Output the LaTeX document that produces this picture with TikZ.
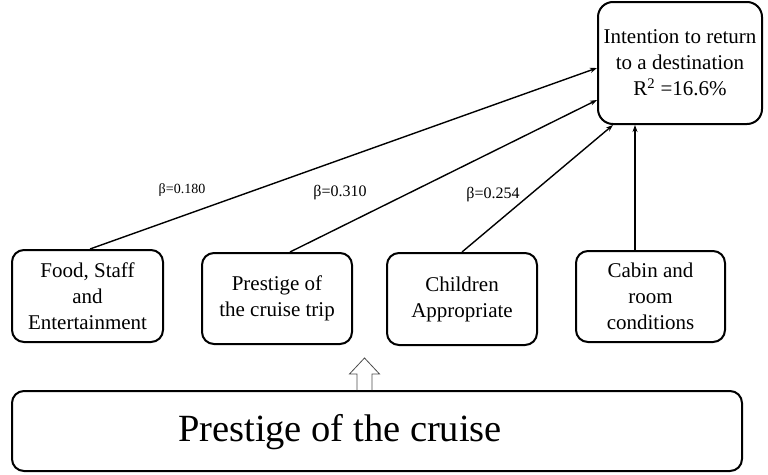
\documentclass[tikz,border=0pt]{standalone}
\usepackage{fontspec}
\setmainfont{Liberation Serif}
\usetikzlibrary{arrows.meta}

\begin{document}
\begin{tikzpicture}[x=1pt,y=-1pt,
	box/.style={draw,line width=2pt,rounded corners=12pt,align=center,inner sep=0pt,
		font=\fontsize{21}{26}\selectfont},
	conn/.style={line width=1.4pt,-{Stealth[length=7pt,width=5pt]}},
	beta/.style={font=\fontsize{16}{18}\selectfont}]
	\useasboundingbox (0,0) rectangle (768,474);

	% dependent variable
	\node[box,rounded corners=15pt,minimum width=164pt,minimum height=122pt] (tgt) at (680,63)
		{Intention to return\\to a destination\\R\textsuperscript{2} =16.6\%};

	% factors
	\node[box,minimum width=151pt,minimum height=92pt] (food) at (87.5,296) {Food, Staff\\and\\Entertainment};
	\node[box,minimum width=150pt,minimum height=91pt] (trip) at (277,298.5) {Prestige of\\the cruise trip};
	\node[box,minimum width=150pt,minimum height=92pt] (kids) at (462,299) {Children\\Appropriate};
	\node[box,minimum width=149pt,minimum height=91pt] (cabin) at (650.5,296.5) {Cabin and\\room\\conditions};

	% bottom box
	\node[box,minimum width=730pt,minimum height=80pt] (big) at (377,431) {};
	\node[font=\fontsize{38.5}{44}\selectfont] (bigtxt) at (340,432) {Prestige of the cruise};

	% paths
	\draw[conn] ([xshift=2.5pt]food.north) -- ([yshift=-5pt]tgt.west);
	\draw[conn] ([xshift=13pt]trip.north) -- ([yshift=-37pt]tgt.west);
	\draw[conn] (kids.north) -- ([xshift=16pt]tgt.south west);
	\draw[conn] ([xshift=-15.5pt]cabin.north) -- ([xshift=-15.5pt]cabin.north |- tgt.south);

	\node[beta,font=\fontsize{14}{16}\selectfont] (b1) at (182,190) {β=0.180};
	\node[beta] (b2) at (340,193) {β=0.310};
	\node[beta] (b3) at (493,195) {β=0.254};

	% hollow arrow
	\coordinate (up) at ([xshift=-12.5pt]big.north);
	\draw[draw=black!70,line width=0.8pt] (up) ++(-7.5,0) -- ++(0,-16) -- ++(-7.5,0) -- ++(15,-16)
		-- ++(15,16) -- ++(-7.5,0) -- ++(0,16);
\end{tikzpicture}
\end{document}
